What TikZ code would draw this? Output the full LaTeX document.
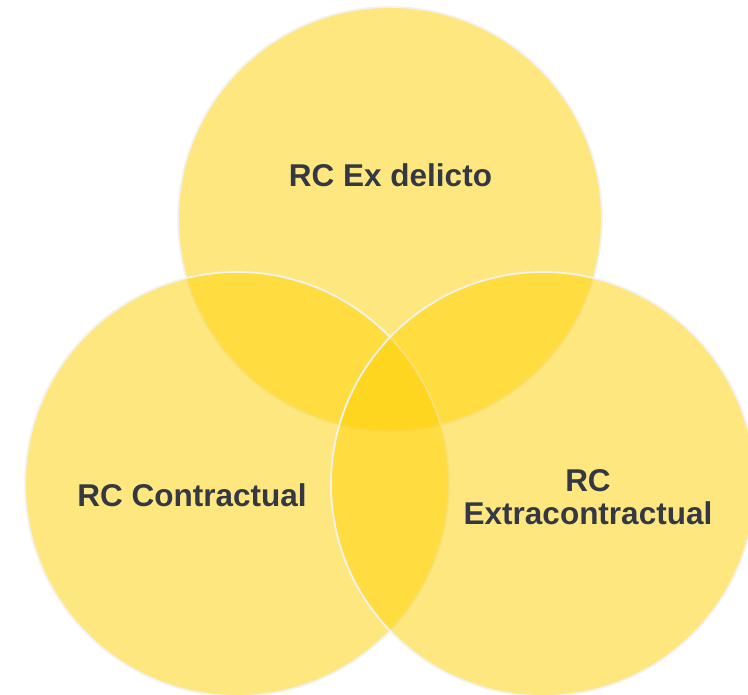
\documentclass[tikz,border=0pt]{standalone}
\usepackage{fontspec}
\setmainfont{Liberation Sans}
\definecolor{venngold}{RGB}{255,208,0}
\definecolor{rimgray}{RGB}{242,242,242}
\definecolor{labeltext}{RGB}{52,56,68}
\tikzset{
  venn/.style={circle, minimum size=424pt, inner sep=0pt, fill=venngold, fill opacity=0.5, draw=rimgray, draw opacity=1, line width=1.8pt},
  lbl/.style={text=labeltext, font=\fontsize{31.5}{33}\selectfont\bfseries, align=center, anchor=base, inner sep=0pt}
}
\begin{document}
\begin{tikzpicture}[x=1pt,y=1pt]
\useasboundingbox (0,0) rectangle (748,695);
\node[venn] (top) at (390,476) {};
\node[venn] (left) at (237,211) {};
\node[venn] (right) at (543,211) {};
\node[lbl] (ltop) at (390.5,508) {RC Ex delicto};
\node[lbl] (lleft) at (192,188) {RC Contractual};
\node[lbl] (lright) at (588,170) {RC\\Extracontractual};
\end{tikzpicture}
\end{document}
